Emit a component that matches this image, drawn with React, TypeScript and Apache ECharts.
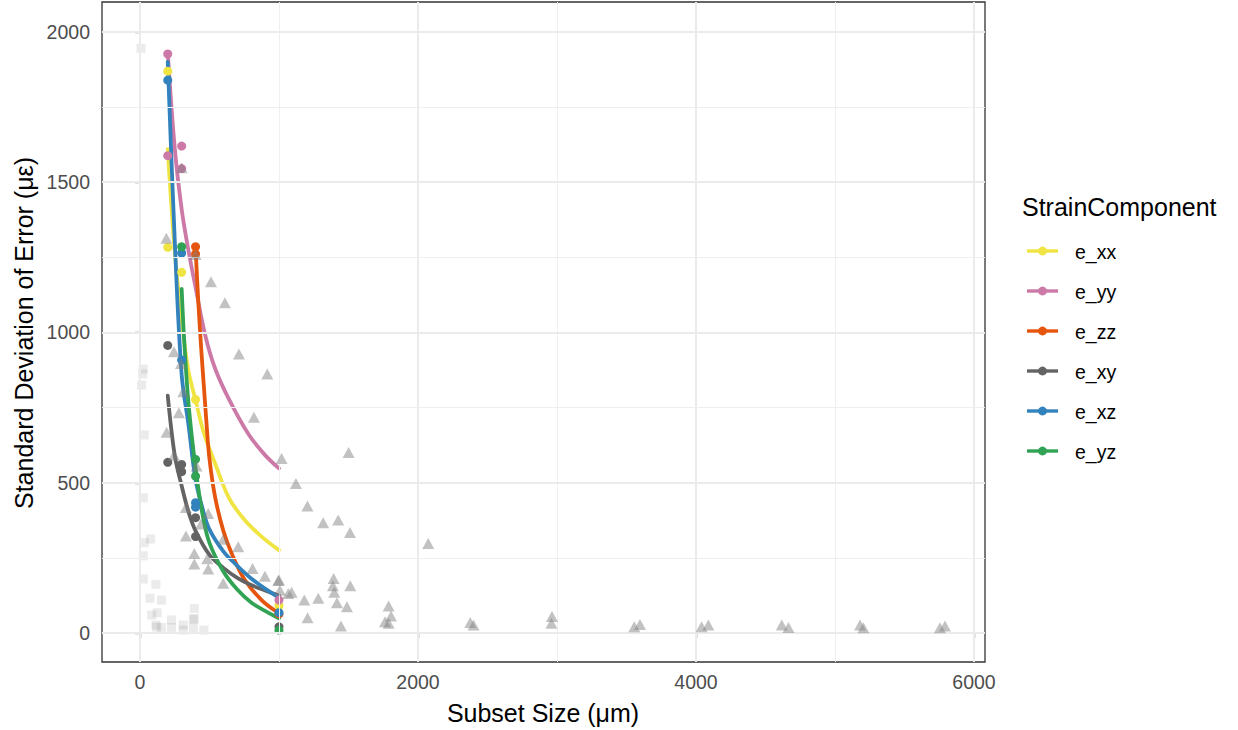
import React, { useEffect, useRef } from 'react';
import * as echarts from 'echarts';

// ---- axes ----
const xTicks = [0, 2000, 4000, 6000];
const xMinor = [1000, 3000, 5000];
const yTicks = [0, 500, 1000, 1500, 2000];
const yMinor = [250, 750, 1250, 1750];

// ---- legend / groups ----
const components = ['e_xx', 'e_yy', 'e_zz', 'e_xy', 'e_xz', 'e_yz'];
const colors = ['#F0E442', '#CC79A7', '#E6550D', '#636363', '#3182BD', '#31A354'];

// ---- measured points per component ----
const exxPtsX = [200, 200, 300, 400, 1000];
const exxPtsY = [1869, 1283, 1200, 777, 91];
const eyyPtsX = [200, 200, 300, 300, 1000];
const eyyPtsY = [1926, 1588, 1620, 1545, 110];
const ezzPtsX = [400, 400, 1000];
const ezzPtsY = [1285, 1261, 64];
const exyPtsX = [200, 200, 300, 300, 400, 400, 1000];
const exyPtsY = [957, 568, 561, 537, 384, 321, 21];
const exzPtsX = [200, 300, 300, 400, 400, 1000];
const exzPtsY = [1839, 1264, 908, 434, 419, 68];
const eyzPtsX = [300, 400, 400, 1000];
const eyzPtsY = [1285, 578, 522, 10];

// ---- fitted curves per component ----
const exxFitX = [200, 250, 300, 350, 400, 460, 540, 640, 750, 875, 1000];
const exxFitY = [1610, 1270, 1040, 870, 775, 665, 565, 450, 378, 321, 276];
const eyyFitX = [200, 250, 300, 350, 400, 470, 540, 640, 780, 900, 1000];
const eyyFitY = [1930, 1615, 1410, 1270, 1150, 990, 881, 778, 662, 592, 548];
const ezzFitX = [400, 420, 440, 460, 480, 500, 540, 600, 660, 750, 875, 1000];
const ezzFitY = [1280, 1100, 950, 820, 690, 580, 454, 340, 265, 180, 110, 66];
const exyFitX = [200, 250, 300, 350, 400, 500, 600, 700, 800, 900, 1000];
const exyFitY = [790, 592, 490, 402, 340, 260, 217, 184, 160, 142, 125];
const exzFitX = [200, 250, 300, 350, 400, 450, 500, 600, 700, 800, 900, 1000];
const exzFitY = [1900, 1310, 860, 690, 510, 415, 345, 272, 224, 182, 148, 118];
const eyzFitX = [300, 320, 350, 400, 450, 500, 600, 700, 800, 900, 1000];
const eyzFitY = [1145, 960, 760, 550, 395, 300, 205, 145, 102, 74, 49];

// ---- gray reference data (triangles) ----
const triX = [190, 300, 400, 295, 511, 611, 245, 712, 916, 312, 280, 820, 192, 245, 407, 1019, 1122,
  331, 491, 331, 439, 599, 707, 391, 391, 484, 491, 599, 810, 899, 995, 1007, 1091, 1501, 1205, 1318,
  1426, 1511, 2074, 1182, 1283, 1393, 1388, 1398, 1513, 1417, 1489, 1206, 1446, 1789, 1806, 1763, 1789,
  2376, 2400, 2964, 2960, 3556, 3597, 4040, 4089, 4617, 4665, 5180, 5204, 5755, 5791, 1000, 1067];
const triY = [1313, 1548, 1259, 897, 1169, 1099, 936, 928, 862, 803, 733, 718, 668, 592, 556, 581, 498,
  418, 398, 323, 363, 312, 287, 265, 230, 247, 213, 166, 215, 189, 175, 143, 136, 601, 423, 367,
  376, 335, 298, 110, 116, 182, 158, 136, 158, 101, 88, 51, 24, 90, 57, 38, 33,
  35, 27, 55, 33, 21, 29, 21, 27, 27, 19, 27, 18, 18, 24, 177, 132];

// ---- light gray reference data (squares) ----
const sqX = [7, 24, 20, 12, 31, 24, 31, 77, 24, 24, 115, 72, 155, 391, 84, 124, 115, 155, 227, 227,
  311, 311, 384, 384, 460, 120, 391];
const sqY = [1945, 878, 862, 825, 659, 450, 301, 313, 257, 180, 162, 116, 110, 82, 60, 68, 27, 19, 44, 19,
  27, 10, 46, 18, 10, 20, 48];

const ptsX = [exxPtsX, eyyPtsX, ezzPtsX, exyPtsX, exzPtsX, eyzPtsX];
const ptsY = [exxPtsY, eyyPtsY, ezzPtsY, exyPtsY, exzPtsY, eyzPtsY];
const fitX = [exxFitX, eyyFitX, ezzFitX, exyFitX, exzFitX, eyzFitX];
const fitY = [exxFitY, eyyFitY, ezzFitY, exyFitY, exzFitY, eyzFitY];

const FONT = "'Liberation Sans', Arial, sans-serif";
const zip = (xs: number[], ys: number[]) => xs.map((x, i) => [x, ys[i]]);

function buildOption() {
  const gridLines: any[] = [];
  xTicks.forEach((v) => gridLines.push({ xAxis: v, lineStyle: { color: '#EBEBEB', width: 2, type: 'solid' } }));
  xMinor.forEach((v) => gridLines.push({ xAxis: v, lineStyle: { color: '#EFEFEF', width: 1, type: 'solid' } }));
  yTicks.forEach((v) => gridLines.push({ yAxis: v, lineStyle: { color: '#EBEBEB', width: 2, type: 'solid' } }));
  yMinor.forEach((v) => gridLines.push({ yAxis: v, lineStyle: { color: '#EFEFEF', width: 1, type: 'solid' } }));

  const series: any[] = [
    {
      type: 'line',
      data: [],
      z: 1,
      silent: true,
      markLine: { symbol: ['none', 'none'], silent: true, label: { show: false }, data: gridLines },
    },
  ];

  components.forEach((name, i) => {
    series.push({
      name,
      type: 'line',
      data: zip(fitX[i], fitY[i]),
      showSymbol: false,
      smooth: 0.35,
      lineStyle: { color: colors[i], width: 3.8, cap: 'round', join: 'round' },
      itemStyle: { color: colors[i] },
      z: 2,
      silent: true,
    });
  });
  components.forEach((name, i) => {
    series.push({
      name,
      type: 'scatter',
      data: zip(ptsX[i], ptsY[i]),
      symbol: 'circle',
      symbolSize: 9,
      itemStyle: { color: colors[i], opacity: 1 },
      z: 3,
      silent: true,
    });
  });
  series.push({
    name: 'squares',
    type: 'scatter',
    data: zip(sqX, sqY),
    symbol: 'rect',
    symbolSize: 9,
    itemStyle: { color: 'rgba(128,128,128,0.2)' },
    z: 4,
    silent: true,
  });
  series.push({
    name: 'triangles',
    type: 'scatter',
    data: zip(triX, triY),
    symbol: 'triangle',
    symbolSize: [12, 11],
    itemStyle: { color: 'rgba(128,128,128,0.6)' },
    z: 5,
    silent: true,
  });

  const legendRows = [251, 291, 331, 371, 411, 451];
  const graphic: any[] = [
    {
      type: 'text',
      left: 1022,
      top: 194,
      style: { text: 'StrainComponent', fontSize: 25, fontFamily: FONT, fill: '#000' },
    },
    {
      type: 'text',
      x: 543,
      y: 713,
      style: { text: 'Subset Size (μm)', fontSize: 25, fontFamily: FONT, fill: '#000', align: 'center', verticalAlign: 'middle' },
    },
    {
      type: 'text',
      x: 24,
      y: 333,
      rotation: Math.PI / 2,
      style: { text: 'Standard Deviation of Error (με)', fontSize: 25, fontFamily: FONT, fill: '#000', align: 'center', verticalAlign: 'middle' },
    },
  ];
  components.forEach((name, i) => {
    const y = legendRows[i];
    graphic.push({ type: 'line', shape: { x1: 1027, y1: y, x2: 1058, y2: y }, style: { stroke: colors[i], lineWidth: 3.4 } });
    graphic.push({ type: 'circle', shape: { cx: 1042.5, cy: y, r: 4.4 }, style: { fill: colors[i] } });
    graphic.push({
      type: 'text',
      x: 1075,
      y: y + 1,
      style: { text: name, fontSize: 19.5, fontFamily: FONT, fill: '#000', verticalAlign: 'middle' },
    });
  });

  return {
    animation: false,
    backgroundColor: '#ffffff',
    grid: {
      left: 102,
      top: 2,
      width: 883,
      height: 660,
      show: true,
      borderColor: '#333333',
      borderWidth: 1.3,
      backgroundColor: 'transparent',
      containLabel: false,
    },
    xAxis: {
      type: 'value',
      min: -273,
      max: 6079,
      axisLine: { show: false },
      splitLine: { show: false },
      axisTick: { show: true, customValues: xTicks, length: 5, lineStyle: { color: '#333333', width: 1.3 } },
      axisLabel: {
        customValues: xTicks,
        formatter: (v: number) => String(v),
        color: '#4D4D4D',
        fontSize: 19.5,
        fontFamily: FONT,
        margin: 10,
      },
    },
    yAxis: {
      type: 'value',
      min: -96,
      max: 2099,
      axisLine: { show: false },
      splitLine: { show: false },
      axisTick: { show: true, customValues: yTicks, length: 5, lineStyle: { color: '#333333', width: 1.3 } },
      axisLabel: {
        customValues: yTicks,
        formatter: (v: number) => String(v),
        color: '#4D4D4D',
        fontSize: 19.5,
        fontFamily: FONT,
        margin: 12,
      },
    },
    series,
    graphic,
  };
}

export default function App() {
  const ref = useRef<HTMLDivElement>(null);
  useEffect(() => {
    if (!ref.current) return;
    const chart = echarts.init(ref.current, null, { renderer: 'svg' });
    chart.setOption(buildOption() as any);
    return () => chart.dispose();
  }, []);
  return (
    <div
      ref={ref}
      style={{ position: 'fixed', left: 0, top: 0, width: 1238, height: 730, background: '#fff' }}
    />
  );
}
